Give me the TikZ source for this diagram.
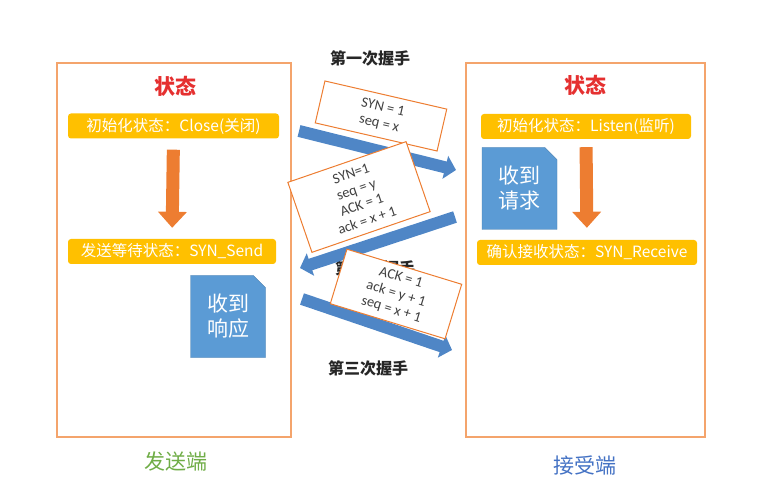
\documentclass[tikz,border=0pt]{standalone}
\usepackage{fontspec}
\setmainfont{Carlito}
\newfontfamily\cjk{Noto Sans CJK SC}
\usetikzlibrary{arrows.meta, positioning, shapes.misc}
\definecolor{frameorange}{HTML}{F4A46C}
\definecolor{baryellow}{HTML}{FFC000}
\definecolor{arroworange}{HTML}{ED7D31}
\definecolor{docblue}{HTML}{5B9BD5}
\definecolor{flowblue}{HTML}{4F86C6}
\definecolor{titlered}{HTML}{E53030}
\definecolor{sendgreen}{HTML}{70AD47}
\definecolor{recvblue}{HTML}{4472C4}
\definecolor{msgtext}{HTML}{404040}

\begin{document}
\begin{tikzpicture}[x=1pt, y=-1pt,
    frame/.style={draw=frameorange, line width=1.5pt, minimum height=374pt},
    title/.style={font=\cjk\bfseries\fontsize{21}{24}\selectfont, text=titlered},
    bar/.style={fill=baryellow, rounded corners=3pt, minimum height=25pt,
                inner xsep=2pt, text=white, font=\cjk\fontsize{15.5}{18}\selectfont},
    down/.style={arroworange, line width=13pt, -{Triangle[width=28pt,length=16pt]}},
    doc/.style={chamfered rectangle, chamfered rectangle corners=north east,
                chamfered rectangle xsep=9pt, fill=docblue, draw=docblue!80!black,
                minimum width=75pt, minimum height=82pt, align=center, text=white,
                font=\cjk\fontsize{21}{25}\selectfont},
    msg/.style={draw=arroworange, fill=white, line width=1pt, align=center,
                text=msgtext, font=\fontsize{14.5}{16.5}\selectfont, inner sep=2pt},
    flow/.style={flowblue, line width=12pt, -{Triangle[width=23pt,length=11pt]}},
    hslabel/.style={font=\cjk\bfseries\fontsize{16}{18}\selectfont, text=black!85},
    side/.style={font=\cjk\fontsize{21}{24}\selectfont}
  ]
  \useasboundingbox (0,0) rectangle (768,486);

  % the two ends
  \node[frame, minimum width=234pt] (sender)   at (174,250) {};
  \node[frame, minimum width=239pt] (receiver) at (585.5,250) {};
  \node[side, text=sendgreen] (sndname) at (176,462) {发送端};
  \node[side, text=recvblue]  (rcvname) at (585,465) {接受端};

  % sender states
  \node[title] (sndtitle) at (175,86) {状态};
  \node[bar, minimum width=211pt] (sndinit) at (173.5,126) {初始化状态：Close(关闭)};
  \node[bar, minimum width=208pt] (sndwait) at (172,251.5) {发送等待状态：SYN\_Send};
  \draw[down, shorten <=11pt, shorten >=11pt] (sndinit.south) -- (sndwait.north);
  \node[doc] (resp) at (228,316.5) {收到\\响应};

  % receiver states
  \node[title] (rcvtitle) at (585,85) {状态};
  \node[bar, minimum width=210pt] (rcvinit) at (586,126.5) {初始化状态：Listen(监听)};
  \node[bar, minimum width=220pt] (rcvconf) at (587,252.5) {确认接收状态：SYN\_Receive};
  \draw[down, shorten <=8pt, shorten >=12pt] (rcvinit.south) -- (rcvconf.north);
  \node[doc] (req) at (519.5,188.5) {收到\\请求};

  % handshake
  \coordinate (f1s) at (299,131);
  \coordinate (f1e) at (456,170);
  \coordinate (f2s) at (455,217);
  \coordinate (f2e) at (300,268);
  \coordinate (f3s) at (302,299);
  \coordinate (f3e) at (452,350);
  \node[hslabel] (hs1) at (370,58)  {第一次握手};
  \node[hslabel] (hs2) at (375,268) {第二次握手};
  \node[hslabel] (hs3) at (368,368) {第三次握手};

  \draw[flow] (f1s) -- (f1e);
  \node[msg, minimum width=125pt, minimum height=43pt, rotate=-13] (syn) at (381,116)
    {SYN = 1\\seq = x};
  \node[msg, minimum width=125pt, minimum height=74pt, rotate=19] (synack) at (359,197)
    {SYN=1\\seq = y\\ACK = 1\\ack = x + 1};
  \draw[flow] (f2s) -- (f2e);
  \draw[flow] (f3s) -- (f3e);
  \node[msg, minimum width=120pt, minimum height=57pt, rotate=-17] (ack) at (396,294)
    {ACK = 1\\ack = y + 1\\seq = x + 1};
\end{tikzpicture}
\end{document}
